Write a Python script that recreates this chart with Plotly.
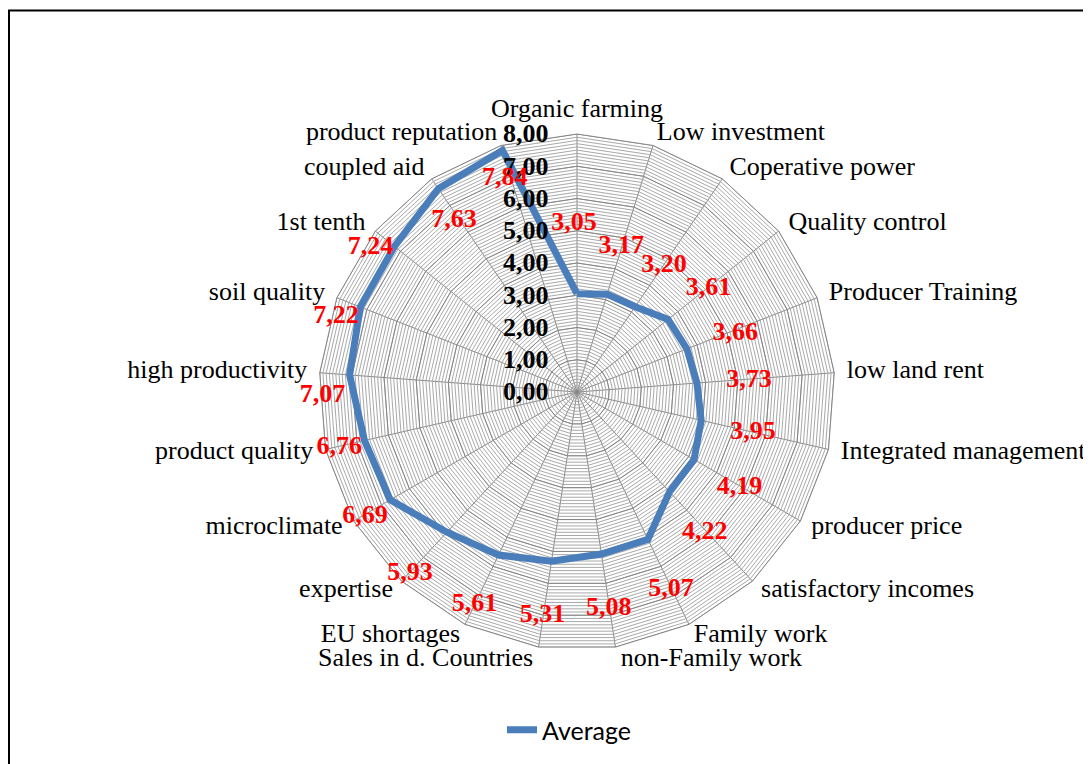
import math
import plotly.graph_objects as go

# ---- data ----
categories = [
    "Organic farming", "Low investment", "Coperative power", "Quality control",
    "Producer Training", "low land rent", "Integrated management", "producer price",
    "satisfactory incomes", "Family work", "non-Family work", "Sales in d. Countries",
    "EU shortages", "expertise", "microclimate", "product quality",
    "high productivity", "soil quality", "1st tenth", "coupled aid", "product reputation",
]
average = [3.05, 3.17, 3.20, 3.61, 3.66, 3.73, 3.95, 4.19, 4.22, 5.07, 5.08,
           5.31, 5.61, 5.93, 6.69, 6.76, 7.07, 7.22, 7.24, 7.63, 7.84]
radial_major = [0, 1, 2, 3, 4, 5, 6, 7, 8]
radial_major_text = ["0,00", "1,00", "2,00", "3,00", "4,00", "5,00", "6,00", "7,00", "8,00"]
series_name = "Average"

# ---- data-label placement (offsets from each point, radial units / degrees) ----
label_dr = [2.19, 1.56, 1.57, 1.57, 1.58, 1.62, 1.65, 1.65, 1.66, 1.70, 1.69,
            1.69, 1.72, 1.71, 0.94, 0.81, 0.82, 0.61, 0.58, -1.08, -0.84]
label_dtheta = [-1, -0.3, 0.1, 0.5, 1.0, 0.3, 0, 0.3, 0.5, 0.2, 0.2,
                0.2, 0, -0.2, -0.5, -0.4, -5.0, -4.1, -3.5, -1.3, -1.5]

SERIF = "Liberation Serif, Times New Roman, serif"
BLUE = "#4A7EBB"
DARK = "#868686"
LIGHT = "#a9a9a9"
RMAX = 8
RMAX_OVERLAY = 10   # overlay polar for texts, same scale but larger extent

n = len(categories)
step = 360.0 / n
minor_vals = [round(i * 0.1, 1) for i in range(0, 81)]
minor_text = [radial_major_text[radial_major.index(int(round(v)))] if abs(v - round(v)) < 1e-9 else "" for v in minor_vals]

# category label placement rule (Excel-like): by direction of each spoke
cat_pos, cat_r, cat_dt = [], [], []
for i in range(n):
    a = 90 - i * step          # math angle
    a = (a + 180) % 360 - 180
    if abs(a - 90) < 5:
        cat_pos.append("top center"); cat_r.append(RMAX + 0.33); cat_dt.append(0)
    elif -125 < a < -55:
        right = a > -90
        cat_pos.append("bottom right" if right else "bottom left")
        cat_r.append(RMAX); cat_dt.append(-1.2 if right else 1.2)
    elif math.cos(math.radians(a)) > 0:
        cat_pos.append("middle right"); cat_r.append(RMAX + 0.39); cat_dt.append(0)
    else:
        cat_pos.append("middle left"); cat_r.append(RMAX + 0.39); cat_dt.append(0)
cat_t = [i * step + d for i, d in enumerate(cat_dt)]

fig = go.Figure()

# major rings
closed_cats = categories + [categories[0]]
for k in radial_major[1:]:
    fig.add_trace(go.Scatterpolar(
        r=[k] * (n + 1), theta=closed_cats, mode="lines",
        line=dict(color=DARK, width=1), hoverinfo="skip", showlegend=False,
        subplot="polar"))

# data series
fig.add_trace(go.Scatterpolar(
    r=average + [average[0]], theta=closed_cats, mode="lines", name=series_name,
    line=dict(color=BLUE, width=7), subplot="polar", showlegend=True))

# category labels (overlay)
fig.add_trace(go.Scatterpolar(
    r=cat_r, theta=cat_t, mode="text", text=categories,
    textposition=cat_pos, cliponaxis=False,
    textfont=dict(family=SERIF, size=26, color="black"),
    hoverinfo="skip", showlegend=False, subplot="polar2"))

# data labels (overlay)
lab_r = [v + d for v, d in zip(average, label_dr)]
lab_t = [i * step + d for i, d in enumerate(label_dtheta)]
lab_txt = [f"{v:.2f}".replace(".", ",") for v in average]
fig.add_trace(go.Scatterpolar(
    r=lab_r, theta=lab_t, mode="text", text=lab_txt, cliponaxis=False,
    textfont=dict(family=SERIF, size=26, color="#FF0000", weight="bold"),
    textposition="middle center", hoverinfo="skip", showlegend=False,
    subplot="polar2"))

W, H = 1091, 764
OFF = 8  # page body margin
cx, cy, R = 577 - OFF, 392 - OFF, 258
R2 = R * RMAX_OVERLAY / RMAX
dom_x = [(cx - R) / W, (cx + R) / W]
dom_y = [1 - (cy + R) / H, 1 - (cy - R) / H]
dom2_x = [(cx - R2) / W, (cx + R2) / W]
dom2_y = [1 - (cy + R2) / H, 1 - (cy - R2) / H]

fig.update_layout(
    width=W, height=H,
    margin=dict(l=0, r=0, t=0, b=0),
    paper_bgcolor="white",
    polar=dict(
        domain=dict(x=dom_x, y=dom_y),
        bgcolor="white",
        gridshape="linear",
        angularaxis=dict(
            type="category", categoryarray=categories, categoryorder="array",
            direction="clockwise", rotation=90,
            showgrid=True, gridcolor=DARK, gridwidth=1,
            showline=True, linecolor=DARK, linewidth=1,
            ticks="", showticklabels=False,
        ),
        radialaxis=dict(
            range=[0, RMAX], angle=90, tickangle=90, side="counterclockwise",
            tickmode="array", tickvals=minor_vals, ticktext=minor_text,
            showgrid=True, gridcolor=LIGHT, gridwidth=1,
            showline=False, ticks="outside", ticklen=19, tickcolor="rgba(0,0,0,0)",
            tickfont=dict(family=SERIF, size=26, color="black", weight="bold"),
        ),
    ),
    polar2=dict(
        domain=dict(x=dom2_x, y=dom2_y),
        bgcolor="rgba(0,0,0,0)",
        angularaxis=dict(type="linear", thetaunit="degrees", direction="clockwise",
                         rotation=90, visible=False, showgrid=False, showline=False),
        radialaxis=dict(range=[0, RMAX_OVERLAY], visible=False, showgrid=False,
                        showline=False),
    ),
    legend=dict(
        orientation="h", x=0.5 + 16 / W, xanchor="center", y=1 - (730 - OFF) / H,
        yanchor="middle",
        font=dict(family="Lato, Carlito, Calibri, sans-serif", size=25, color="black"),
        bgcolor="rgba(0,0,0,0)",
    ),
    shapes=[dict(type="rect", xref="paper", yref="paper",
                 x0=(9 - OFF) / W, x1=1.05, y0=-0.05, y1=1 - (10.5 - OFF) / H,
                 line=dict(color="black", width=2), fillcolor="rgba(0,0,0,0)",
                 layer="above")],
)

fig.write_html("out.html")
